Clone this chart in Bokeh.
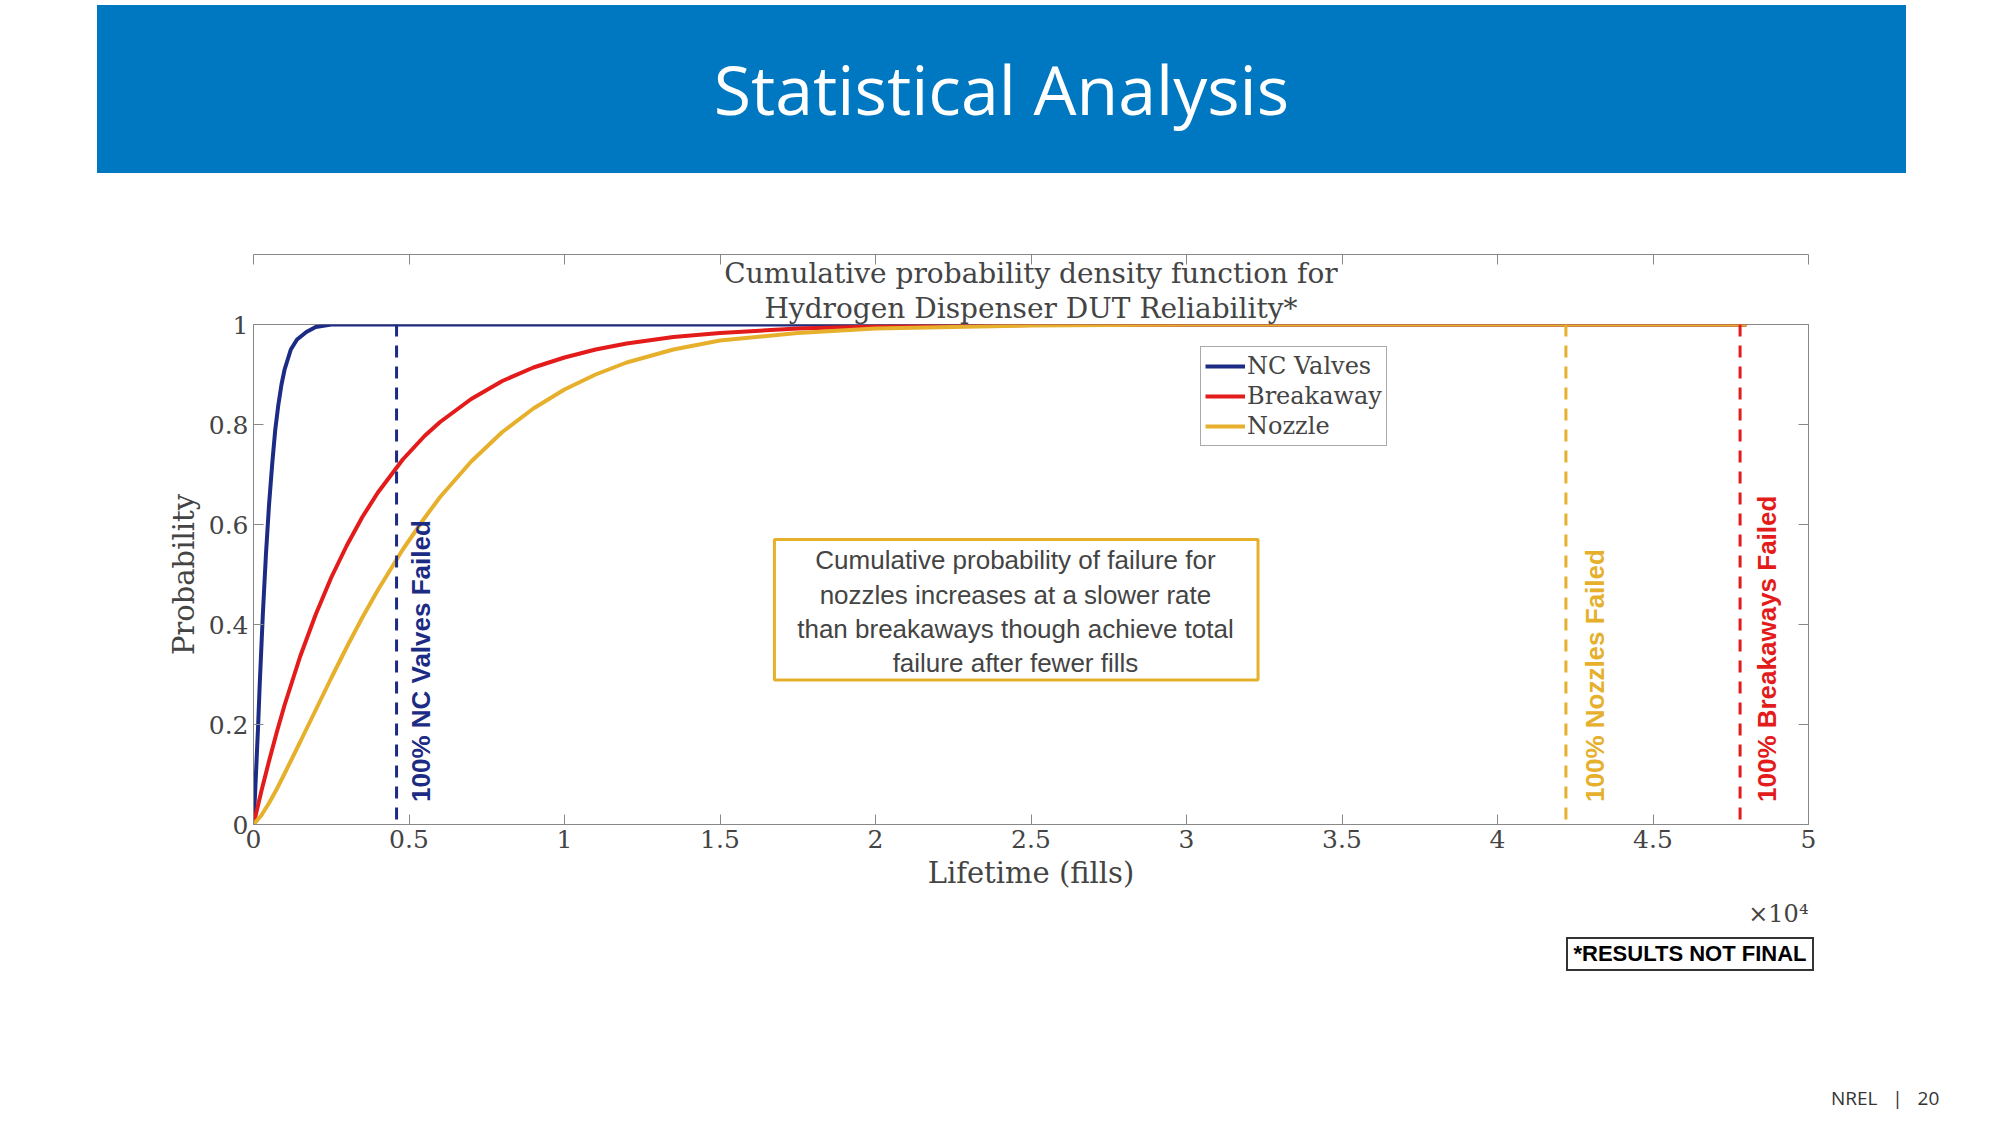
from bokeh.plotting import figure
from bokeh.models import Div, Legend, LegendItem, Label, BoxAnnotation, Span, LinearAxis, FixedTicker, Range1d, Title
from bokeh.layouts import column
from bokeh.embed import file_html
from bokeh.resources import INLINE
import math

nc_x = [0,50,100,150,200,250,300,350,400,450,500,600,700,800,900,1000,1200,1400,1700,2000,2500,48000]
nc_y = [0,0.06,0.13,0.2,0.28,0.35,0.42,0.48,0.54,0.59,0.64,0.72,0.79,0.84,0.88,0.91,0.95,0.97,0.985,0.995,1,1]
br_x = [0,250,500,750,1000,1500,2000,2500,3000,3500,4000,4800,5500,6000,7000,8000,9000,10000,11000,12000,13500,15000,17500,20000,25000,30000,48000]
br_y = [0,0.066,0.127,0.185,0.239,0.336,0.42,0.494,0.558,0.615,0.664,0.73,0.777,0.805,0.851,0.887,0.914,0.934,0.95,0.962,0.975,0.983,0.992,0.996,0.999,1,1]
nz_x = [0,250,500,750,1000,1500,2000,2500,3000,3500,4000,4800,5500,6000,7000,8000,9000,10000,11000,12000,13500,15000,17500,20000,25000,30000,48000]
nz_y = [0,0.018,0.043,0.071,0.102,0.165,0.229,0.293,0.355,0.414,0.469,0.55,0.613,0.655,0.726,0.785,0.832,0.870,0.900,0.924,0.950,0.968,0.983,0.992,0.998,1,1]
fail_x = {"nc": 4600, "nz": 42200, "br": 47800}
x_ticks = [0,5000,10000,15000,20000,25000,30000,35000,40000,45000,50000]
x_tick_labels = ["0","0.5","1","1.5","2","2.5","3","3.5","4","4.5","5"]
y_ticks = [0,0.2,0.4,0.6,0.8,1]

NAVY = "#1c2b84"; RED = "#e31b1b"; YEL = "#e6b02d"
SERIF = "DejaVu Serif"

banner = Div(text='<div style="background:#0078c1;width:1809px;height:168px;margin-left:92px;'
             'display:flex;align-items:center;justify-content:center;color:white;'
             'font-family:\'Open Sans\';font-size:68px;">Statistical Analysis</div>',
             width=1984, height=170)

p = figure(width=1984, height=752, output_backend="svg", toolbar_location=None,
           x_range=Range1d(0, 50000), y_range=Range1d(0, 1),
           min_border_left=253, min_border_right=176, min_border_top=144, min_border_bottom=80)
p.title.visible = False
for t in ["Hydrogen Dispenser DUT Reliability*", "Cumulative probability density function for"]:
    p.add_layout(Title(text=t, align="center", text_font=SERIF, text_font_style="normal",
                       text_font_size="28px", standoff=0), "above")
p.add_layout(Title(text="×10⁴", align="right", text_font=SERIF, text_font_style="normal",
                   text_font_size="24px", text_color="#444444"), "below")
p.grid.visible = False
p.outline_line_color = "#888888"

for ax in p.xaxis + p.yaxis:
    ax.major_tick_in = 10; ax.major_tick_out = 0; ax.minor_tick_line_color = None
    ax.major_label_text_font = SERIF; ax.major_label_text_font_size = "25px"
    ax.axis_label_text_font = SERIF; ax.axis_label_text_font_size = "29px"
    ax.axis_label_text_font_style = "normal"
    ax.axis_line_color = "#888888"; ax.major_tick_line_color = "#888888"
p.xaxis.ticker = FixedTicker(ticks=x_ticks)
p.xaxis.major_label_overrides = {t: l for t, l in zip(x_ticks, x_tick_labels)}
p.yaxis.ticker = FixedTicker(ticks=y_ticks)
p.yaxis.major_label_overrides = {0: "0", 1: "1"}
p.xaxis.axis_label = "Lifetime (fills)"
p.yaxis.axis_label = "Probability"
for side in ["right", "above"]:
    ax = LinearAxis(major_label_text_font_size="0px", major_tick_in=10, major_tick_out=0,
                    minor_tick_line_color=None, axis_line_color="#888888", major_tick_line_color="#888888")
    ax.ticker = FixedTicker(ticks=y_ticks if side == "right" else x_ticks)
    p.add_layout(ax, side)

for k, c in [("nc", NAVY), ("nz", YEL), ("br", RED)]:
    p.add_layout(Span(location=fail_x[k], dimension="height", line_color=c, line_width=3, line_dash="12 9"))

r_nc = p.line(nc_x, nc_y, line_color=NAVY, line_width=4)
r_br = p.line(br_x, br_y, line_color=RED, line_width=4)
r_nz = p.line(nz_x, nz_y, line_color=YEL, line_width=4)

leg = Legend(items=[LegendItem(label="NC Valves", renderers=[r_nc]),
                    LegendItem(label="Breakaway", renderers=[r_br]),
                    LegendItem(label="Nozzle", renderers=[r_nz])],
             location=(947, 378), label_text_font=SERIF, label_text_font_size="24px",
             glyph_width=40, glyph_height=30, label_height=30, spacing=0, padding=4, margin=0,
             border_line_color="#555555", label_standoff=2)
p.add_layout(leg, "center")

p.add_layout(BoxAnnotation(left=16750, right=32300, bottom=0.289, top=0.570,
                           fill_color=None, fill_alpha=0, line_color=YEL, line_width=3, line_alpha=1))
for t, y in zip(["Cumulative probability of failure for", "nozzles increases at a slower rate",
                 "than breakaways though achieve total", "failure after fewer fills"],
                [0.529, 0.459, 0.391, 0.323]):
    p.add_layout(Label(x=24500, y=y, text=t, text_align="center", text_baseline="middle",
                       text_font="Liberation Sans", text_font_size="26px"))

for t, x, c in [("100% NC Valves Failed", 5390, NAVY), ("100% Nozzles Failed", 43130, YEL),
                ("100% Breakaways Failed", 48680, RED)]:
    p.add_layout(Label(x=x, y=0.045, text=t, angle=math.pi / 2, text_align="left", text_baseline="middle",
                       text_font="Liberation Sans", text_font_style="bold", text_font_size="26px", text_color=c))

footer = Div(text='<div style="position:relative;width:1984px;height:190px;font-family:\'Liberation Sans\';">'
             '<div style="position:absolute;left:1561px;top:0px;width:248px;height:34px;border:2px solid #333;'
             'font-weight:bold;font-size:22px;display:flex;align-items:center;justify-content:center;">*RESULTS NOT FINAL</div>'
             '<div style="position:absolute;left:1826px;top:148px;font-family:\'Open Sans\';font-size:19px;color:#333;">'
             'NREL&nbsp;&nbsp;&nbsp;|&nbsp;&nbsp;&nbsp;20</div></div>', width=1984, height=190)

open("out.html", "w").write(file_html(column(banner, p, footer, spacing=0), INLINE))
